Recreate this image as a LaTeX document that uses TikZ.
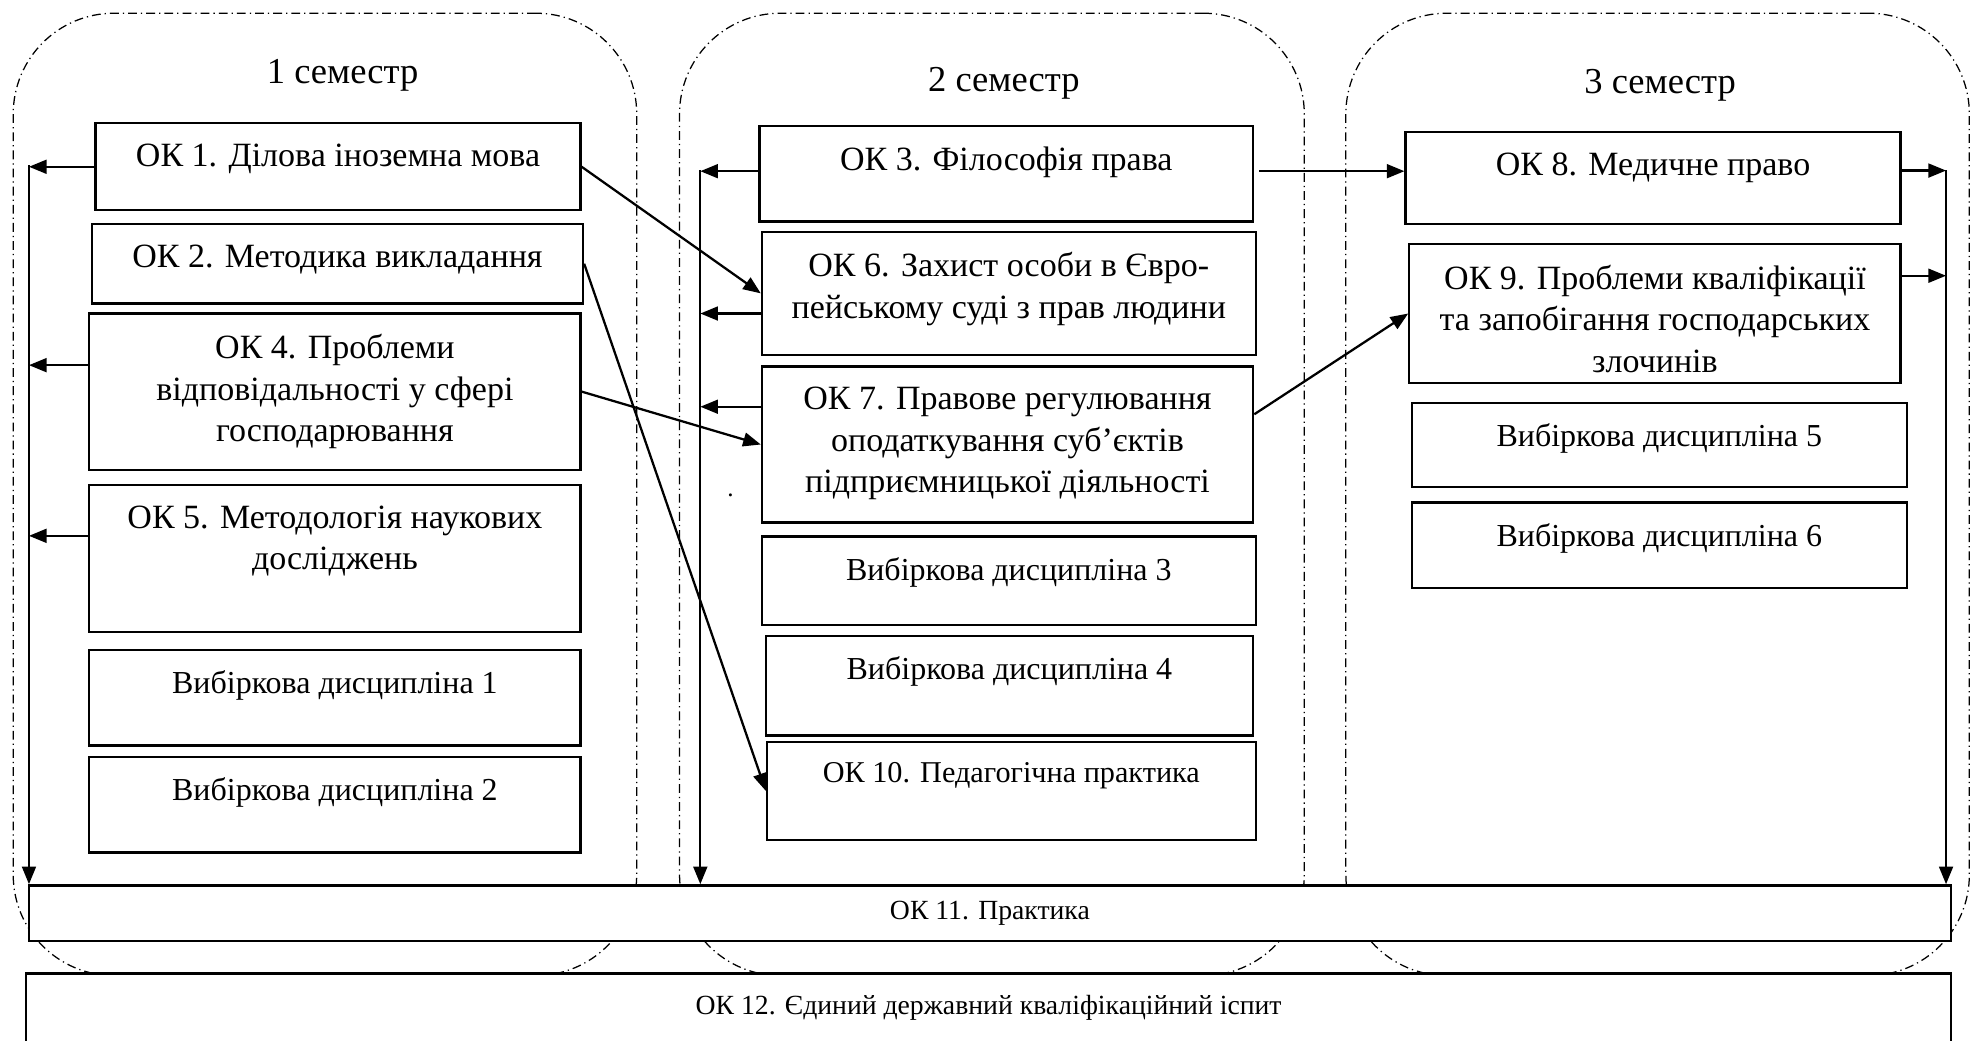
\documentclass[tikz,border=0pt]{standalone}
\usepackage{fontspec}
\setmainfont{Liberation Serif}
\usetikzlibrary{arrows.meta}
\tikzset{
  sem/.style={draw, line width=0.5pt, dash pattern=on 3.5pt off 1.6pt on 0.5pt off 1.6pt,
    rounded corners=40pt, anchor=north west, inner sep=0pt},
  semlbl/.style={font=\fontsize{14.5}{18}\selectfont},
  box/.style={draw, line width=0.9pt, fill=white, anchor=north west, inner sep=0pt},
  boxtxt/.style={anchor=north, yshift=-8.5pt, align=center, inner sep=0pt,
    font=\fontsize{13.5}{16.5}\selectfont},
  boxtxtv/.style={boxtxt, font=\fontsize{12.7}{15}\selectfont},
  arr/.style={line width=0.9pt, -{Triangle[length=7pt,width=5.5pt]}}
}

\begin{document}
\begin{tikzpicture}[x=0.5pt, y=-0.5pt]
\useasboundingbox (0,0) rectangle (1568,826);
% semesters
\node[sem, minimum width=247.5pt, minimum height=382pt] (sem1) at (10,10) {};
\node[sem, minimum width=248pt, minimum height=382pt] (sem2) at (539,10) {};
\node[sem, minimum width=247.5pt, minimum height=382pt] (sem3) at (1068,10) {};
\node[semlbl] (s1) at (272,60) {1 семестр};
\node[semlbl] (s2) at (797,66) {2 семестр};
\node[semlbl] (s3) at (1318,68) {3 семестр};

% 1 semester
\node[box, minimum width=192.5pt, minimum height=34.5pt,
  label={[boxtxt]north:{ОК 1. Ділова іноземна мова}}] (ok1) at (75,97) {};
\node[box, minimum width=195pt, minimum height=31.5pt,
  label={[boxtxt]north:{ОК 2. Методика викладання}}] (ok2) at (72,177) {};
\node[box, minimum width=195pt, minimum height=62pt,
  label={[boxtxt]north:{ОК 4. Проблеми\\відповідальності у сфері\\господарювання}}] (ok4) at (70,248) {};
\node[box, minimum width=195pt, minimum height=58.5pt,
  label={[boxtxt]north:{ОК 5. Методологія наукових\\досліджень}}] (ok5) at (70,384) {};
\node[box, minimum width=195pt, minimum height=38pt,
  label={[boxtxtv]north:{Вибіркова дисципліна 1}}] (vd1) at (70,515) {};
\node[box, minimum width=195pt, minimum height=38pt,
  label={[boxtxtv]north:{Вибіркова дисципліна 2}}] (vd2) at (70,600) {};

% 2 semester
\node[box, minimum width=196pt, minimum height=38pt,
  label={[boxtxt]north:{ОК 3. Філософія права}}] (ok3) at (602,99) {};
\node[box, minimum width=196pt, minimum height=49pt,
  label={[boxtxt]north:{ОК 6. Захист особи в Євро-\\пейському суді з прав людини}}] (ok6) at (604,183) {};
\node[box, minimum width=195pt, minimum height=62pt,
  label={[boxtxt]north:{ОК 7. Правове регулювання\\оподаткування суб’єктів\\підприємницької діяльності}}] (ok7) at (604,290) {};
\node (dot) at (580,393) {.};
\node[box, minimum width=196pt, minimum height=35pt,
  label={[boxtxtv]north:{Вибіркова дисципліна 3}}] (vd3) at (604,425) {};
\node[box, minimum width=193.5pt, minimum height=39.5pt,
  label={[boxtxtv]north:{Вибіркова дисципліна 4}}] (vd4) at (607,504) {};
\node[box, minimum width=194pt, minimum height=39pt,
  label={[boxtxtv, font=\fontsize{12}{15}\selectfont]north:{ОК 10. Педагогічна практика}}] (ok10) at (608,588) {};

% 3 semester
\node[box, minimum width=196.5pt, minimum height=36.5pt,
  label={[boxtxt]north:{ОК 8. Медичне право}}] (ok8) at (1115,104) {};
\node[box, minimum width=195pt, minimum height=55pt,
  label={[boxtxt]north:{ОК 9. Проблеми кваліфікації\\та запобігання господарських\\злочинів}}] (ok9) at (1118,193) {};
\node[box, minimum width=196.5pt, minimum height=33.5pt,
  label={[boxtxtv]north:{Вибіркова дисципліна 5}}] (vd5) at (1120,319) {};
\node[box, minimum width=196.5pt, minimum height=34pt,
  label={[boxtxtv]north:{Вибіркова дисципліна 6}}] (vd6) at (1120,398) {};

% practice and exam
\node[box, minimum width=763pt, minimum height=22pt, font=\fontsize{11}{13}\selectfont] (ok11) at (22,702) {ОК 11. Практика};
\node[box, minimum width=764pt, minimum height=34pt,
  label={[boxtxt, yshift=-0.5pt, font=\fontsize{11}{13}\selectfont]north:{ОК 12. Єдиний державний кваліфікаційний іспит}}] (ok12) at (20,772) {};

% bus lines
\coordinate (b1) at (23,131);
\coordinate (b2) at (556,135);
\coordinate (b3) at (1545,135);
\draw[arr] (b1) -- (b1 |- ok11.north);
\draw[arr] (b2) -- (b2 |- ok11.north);
\draw[arr] (b3) -- (b3 |- ok11.north);

\draw[arr] (ok1.west) -- (ok1.west -| b1);
\draw[arr] ([yshift=10.5pt]ok4.west) -- ([yshift=10.5pt]ok4.west -| b1);
\draw[arr] ([yshift=9pt]ok5.west) -- ([yshift=9pt]ok5.west -| b1);

\draw[arr] ([yshift=1pt]ok3.west) -- ([yshift=1pt]ok3.west -| b2);
\draw[arr] ([yshift=-8pt]ok6.west) -- ([yshift=-8pt]ok6.west -| b2);
\draw[arr] ([yshift=15pt]ok7.west) -- ([yshift=15pt]ok7.west -| b2);

\draw[arr] ([yshift=3pt]ok8.east) -- ([yshift=3pt]ok8.east -| b3);
\draw[arr] ([yshift=15pt]ok9.east) -- ([yshift=15pt]ok9.east -| b3);

% links between semesters
\draw[arr] (ok1.east) -- (ok6.west);
\draw[arr] (ok2.east) -- (ok10.west);
\draw[arr] (ok4.east) -- (ok7.west);
\draw[arr] ([xshift=2pt, yshift=1pt]ok3.east) -- ([yshift=1pt]ok3.east -| ok8.west);
\draw[arr] ([yshift=12pt]ok7.east) -- (ok9.west);
\end{tikzpicture}
\end{document}
